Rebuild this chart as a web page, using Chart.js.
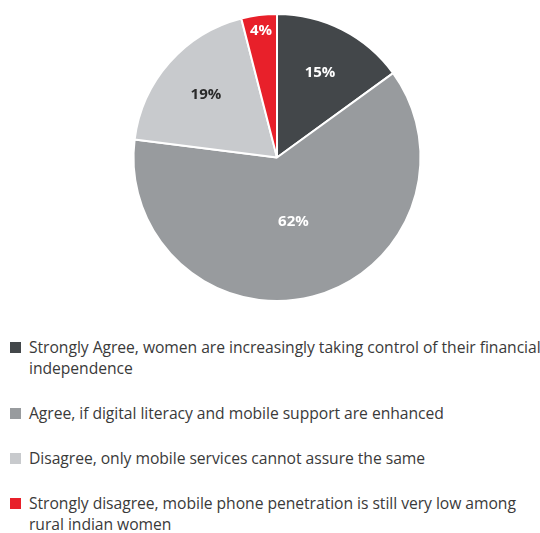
<!DOCTYPE html>
<html>
<head>
<meta charset="utf-8">
<script src="https://cdn.jsdelivr.net/npm/chart.js@4"></script>
<style>
  html, body { margin: 0; padding: 0; background: #fff; }
  body { width: 540px; height: 533px; overflow: hidden; position: relative; font-family: "Open Sans", sans-serif; }
  #wrap { position: absolute; left: 0; top: 0; width: 540px; height: 314px; }
  #legend { position: absolute; left: 10px; top: 337px; width: 545px; }
  .item { display: flex; align-items: flex-start; margin-bottom: 24px; color: #3a3a3a; font-size: 15.7px; line-height: 21px; }
  .item span.t { white-space: pre-line; letter-spacing: -0.05px; }
  .sw { width: 11px; height: 11px; flex: 0 0 11px; margin-top: 5px; margin-right: 8px; }
</style>
</head>
<body>
<div id="wrap"><canvas id="c"></canvas></div>
<div id="legend"></div>
<script>
const categories = [
  "Strongly Agree, women are increasingly taking control of their financial\nindependence",
  "Agree, if digital literacy and mobile support are enhanced",
  "Disagree, only mobile services cannot assure the same",
  "Strongly disagree, mobile phone penetration is still very low among\nrural indian women"
];
const values = [15, 62, 19, 4];
const valueLabels = ["15%", "62%", "19%", "4%"];

const colors = ["#43474a", "#989b9e", "#c8cacd", "#e8202a"];
const labelColors = ["#ffffff", "#ffffff", "#2b2b2b", "#ffffff"];
const labelRadius = [0.66, 0.46, 0.66, 0.89];

const labelPlugin = {
  id: 'sliceLabels',
  afterDatasetsDraw(chart) {
    const ctx = chart.ctx;
    const meta = chart.getDatasetMeta(0);
    ctx.save();
    ctx.font = 'bold 15px "Open Sans", sans-serif';
    ctx.textAlign = 'center';
    ctx.textBaseline = 'middle';
    meta.data.forEach((arc, i) => {
      const p = arc.getProps(['x','y','startAngle','endAngle','outerRadius'], true);
      const mid = (p.startAngle + p.endAngle) / 2;
      const r = p.outerRadius * labelRadius[i];
      ctx.fillStyle = labelColors[i];
      ctx.fillText(valueLabels[i], p.x + Math.cos(mid) * r, p.y + Math.sin(mid) * r);
    });
    ctx.restore();
  }
};

new Chart(document.getElementById('c'), {
  type: 'pie',
  data: {
    labels: categories,
    datasets: [{
      data: values,
      backgroundColor: colors,
      borderColor: '#ffffff',
      borderWidth: 2
    }]
  },
  options: {
    responsive: true,
    maintainAspectRatio: false,
    animation: false,
    layout: { padding: { left: 14, right: 0, top: 13, bottom: 12 } },
    plugins: { legend: { display: false }, tooltip: { enabled: false } }
  },
  plugins: [labelPlugin]
});

const lg = document.getElementById('legend');
categories.forEach((c, i) => {
  const d = document.createElement('div');
  d.className = 'item';
  const s = document.createElement('span');
  s.className = 'sw';
  s.style.background = colors[i];
  const t = document.createElement('span');
  t.className = 't';
  t.textContent = c;
  d.appendChild(s); d.appendChild(t);
  lg.appendChild(d);
});
</script>
</body>
</html>
